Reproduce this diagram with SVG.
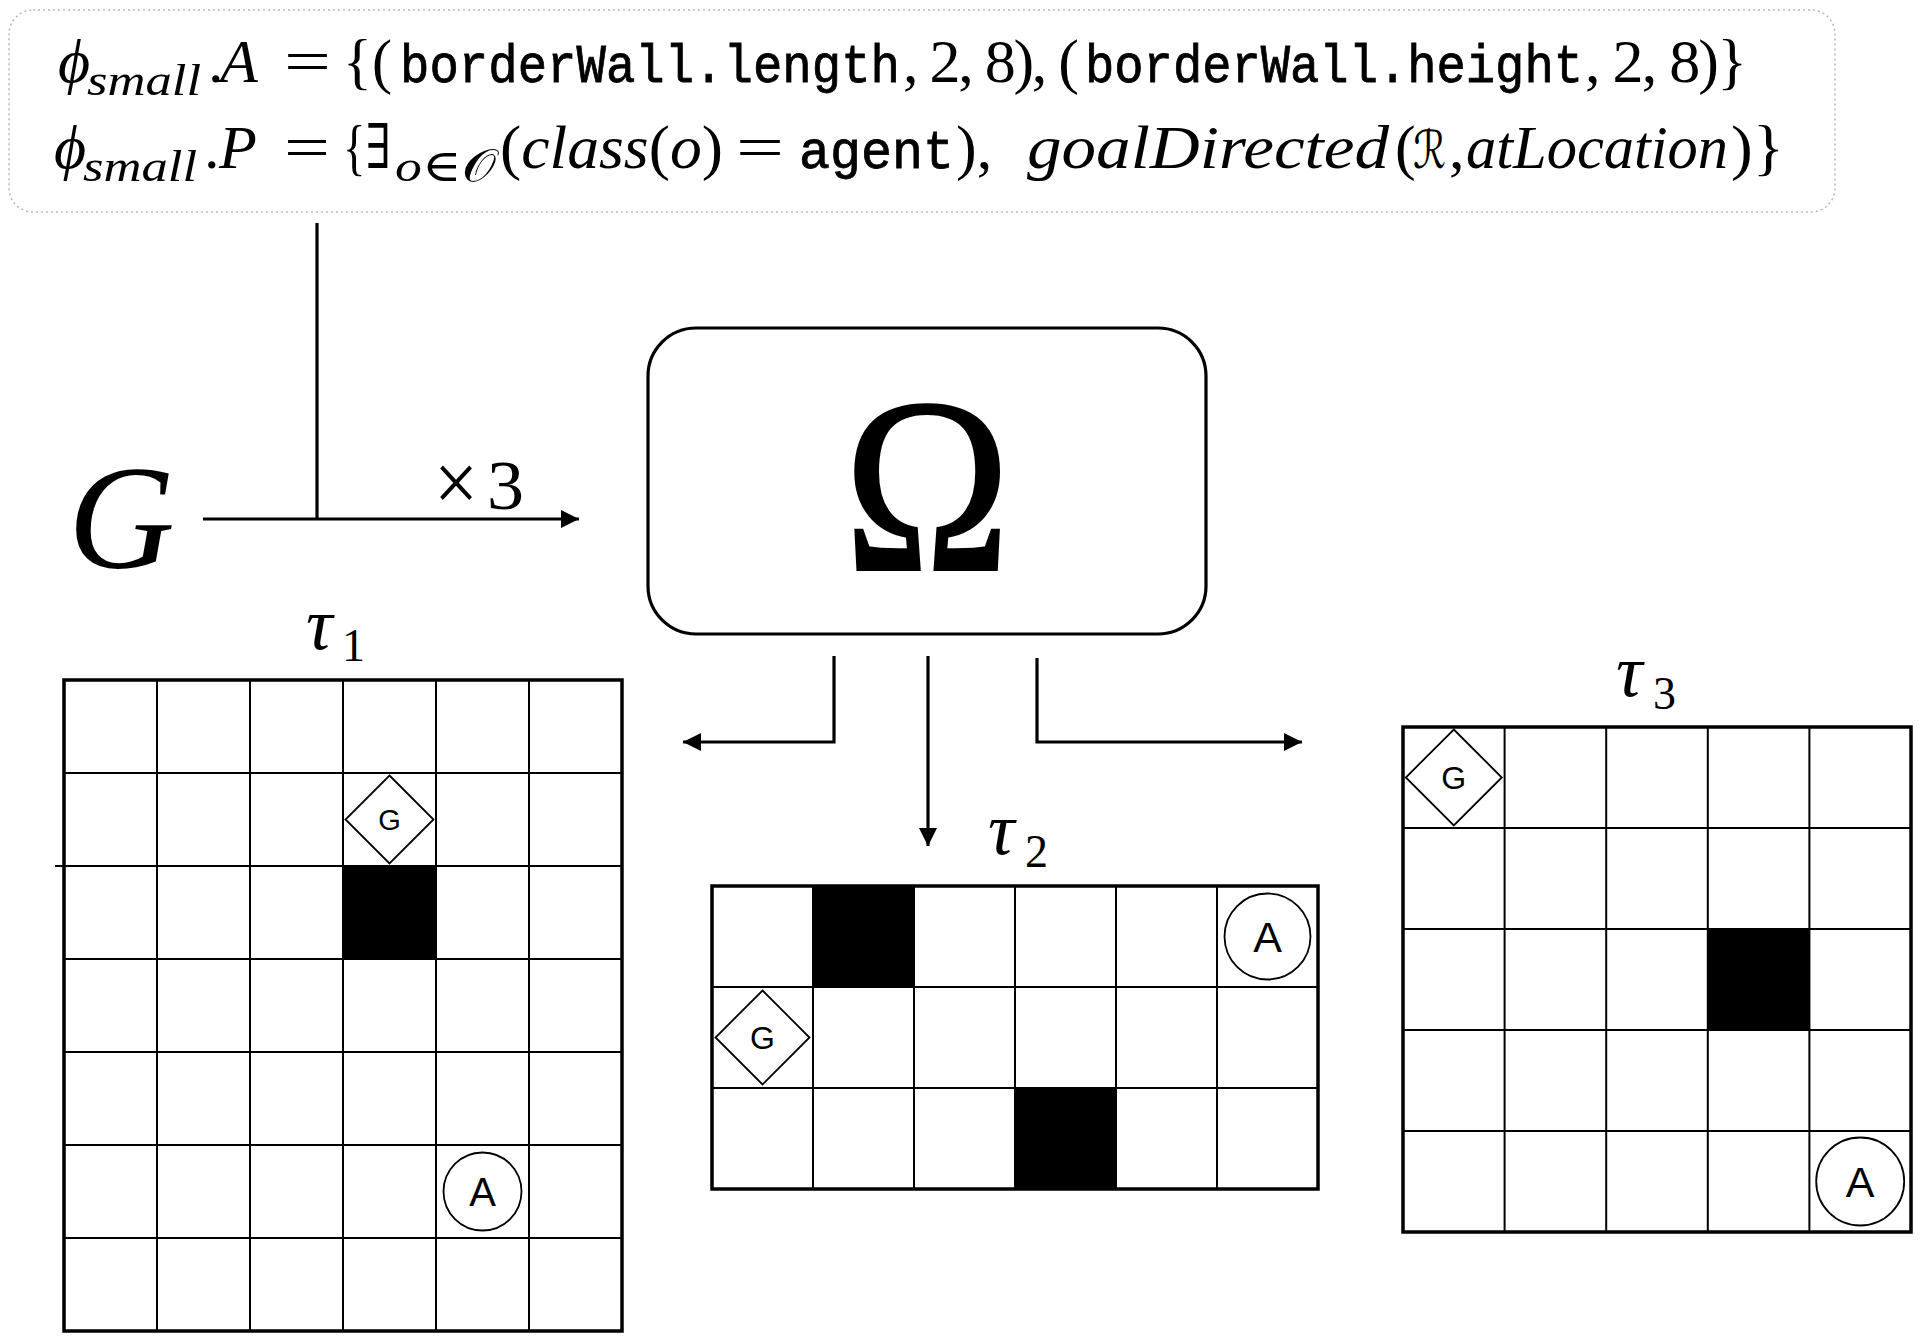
<svg xmlns="http://www.w3.org/2000/svg" width="1922" height="1338" viewBox="0 0 1922 1338">
<style>
.m{font-family:"Liberation Serif","DejaVu Serif",serif;font-size:62px;fill:#000}
.i{font-style:italic}
.s{font-size:45px}
.tt{font-family:"Liberation Mono","DejaVu Sans Mono",monospace;font-size:54px;fill:#000;stroke:#000;stroke-width:0.8}
.cal{font-family:"DejaVu Serif","DejaVu Sans","Noto Sans",serif;font-style:normal}
.grid{fill:none;stroke:#000;stroke-width:2}
.outer{fill:none;stroke:#000;stroke-width:3.5}
.wall{fill:#000}
.tok{fill:#fff;stroke:#000;stroke-width:1.8}
.lbl{font-family:"Liberation Sans",Arial,sans-serif;fill:#000;text-anchor:middle}
.conn{fill:none;stroke:#000;stroke-width:3.2}
</style>
<defs>
<marker id="ah" viewBox="0 0 10 10" refX="10" refY="5" markerUnits="userSpaceOnUse" markerWidth="22" markerHeight="18" orient="auto">
<path d="M0,0 L10,5 L0,10 z" fill="#000"/>
</marker>
</defs>
<rect width="1922" height="1338" fill="#fff"/>

<g id="spec">
<rect x="9" y="10" width="1826" height="202" rx="24" fill="#fff" stroke="#b8b8b8" stroke-width="1.5" stroke-dasharray="2 3"/>
<text class="m i" x="58" y="82">ϕ</text>
<text class="m i s" x="87" y="95" textLength="114" lengthAdjust="spacingAndGlyphs">small</text>
<text class="m" x="208" y="82">.</text>
<text class="m i" x="220" y="82">A</text>
<text class="m" x="284" y="82" textLength="47" lengthAdjust="spacingAndGlyphs">=</text>
<text class="m" x="343" y="82" textLength="49" lengthAdjust="spacingAndGlyphs">{(</text>
<text class="tt" x="400" y="82" textLength="500" lengthAdjust="spacingAndGlyphs">borderWall.length</text>
<text class="m" x="903" y="82" textLength="176" lengthAdjust="spacing">, 2, 8), (</text>
<text class="tt" x="1085" y="82" textLength="498" lengthAdjust="spacingAndGlyphs">borderWall.height</text>
<text class="m" x="1585" y="82" textLength="162" lengthAdjust="spacing">, 2, 8)}</text>

<text class="m i" x="54" y="168">ϕ</text>
<text class="m i s" x="83" y="181" textLength="114" lengthAdjust="spacingAndGlyphs">small</text>
<text class="m" x="204" y="168">.</text>
<text class="m i" x="219" y="168">P</text>
<text class="m" x="284" y="168" textLength="46" lengthAdjust="spacingAndGlyphs">=</text>
<text class="m" x="343" y="168" textLength="48" lengthAdjust="spacingAndGlyphs">{∃</text>
<text class="m s" x="395" y="181" textLength="100" lengthAdjust="spacingAndGlyphs"><tspan class="i">o</tspan>∈<tspan class="cal">𝒪</tspan></text>
<text class="m" x="500" y="168" textLength="223" lengthAdjust="spacingAndGlyphs">(<tspan class="i">class</tspan>(<tspan class="i">o</tspan>)</text>
<text class="m" x="736" y="168" textLength="48" lengthAdjust="spacingAndGlyphs">=</text>
<text class="tt" x="799" y="168" textLength="155" lengthAdjust="spacingAndGlyphs">agent</text>
<text class="m" x="956" y="168">),</text>
<text class="m i" x="1027" y="168" textLength="362" lengthAdjust="spacingAndGlyphs">goalDirected</text>
<text class="m" x="1395" y="168">(</text>
<text class="m cal" x="1413" y="168" textLength="33" lengthAdjust="spacingAndGlyphs" style="font-size:52px">ℛ</text>
<text class="m" x="1449" y="168">,</text>
<text class="m i" x="1466" y="168" textLength="262" lengthAdjust="spacingAndGlyphs">atLocation</text>
<text class="m" x="1731" y="168" textLength="53" lengthAdjust="spacingAndGlyphs">)}</text>
</g>

<g id="G">
<text class="m i" x="68" y="568" style="font-size:148px">G</text>
</g>

<g id="omega">
<rect x="648" y="328" width="558" height="306" rx="48" fill="#fff" stroke="#000" stroke-width="3.2"/>
<text class="m" transform="translate(927,570) scale(0.9,1)" text-anchor="middle" style="font-size:250px" stroke="#000" stroke-width="2">Ω</text>
</g>

<g id="connectors">
<path class="conn" d="M317,223 V519"/>
<path class="conn" d="M203,519 H579" marker-end="url(#ah)"/>
<path class="conn" d="M834,656 V742 H683" marker-end="url(#ah)"/>
<path class="conn" d="M928,656 V846" marker-end="url(#ah)"/>
<path class="conn" d="M1037,658 V742 H1302" marker-end="url(#ah)"/>
<text class="m" x="434" y="511" textLength="44" lengthAdjust="spacingAndGlyphs" style="font-size:84px">×</text>
<text class="m" x="487" y="509" textLength="37" lengthAdjust="spacingAndGlyphs" style="font-size:70px">3</text>
</g>

<g id="tau1">
<text class="m i" x="306" y="649" style="font-size:74px">τ</text>
<text class="m" x="342" y="661" style="font-size:46px">1</text>
<rect class="wall" x="343" y="866" width="93" height="93"/>
<path class="grid" d="M157,680V1331M250,680V1331M343,680V1331M436,680V1331M529,680V1331M64,773H622M64,866H622M64,959H622M64,1052H622M64,1145H622M64,1238H622M55,866H64"/>
<rect class="outer" x="64" y="680" width="558" height="651"/>
<path class="tok" d="M389.5,775.5 L433.5,819.5 L389.5,863.5 L345.5,819.5 Z"/>
<text class="lbl" x="389.5" y="830" style="font-size:29px">G</text>
<circle class="tok" cx="482.5" cy="1191.5" r="39"/>
<text class="lbl" x="482.5" y="1206" style="font-size:40px">A</text>
</g>

<g id="tau2">
<text class="m i" x="988" y="854" style="font-size:74px">τ</text>
<text class="m" x="1025" y="867" style="font-size:46px">2</text>
<rect class="wall" x="813" y="886" width="101" height="101"/>
<rect class="wall" x="1015" y="1088" width="101" height="101"/>
<path class="grid" d="M813,886V1189M914,886V1189M1015,886V1189M1116,886V1189M1217,886V1189M712,987H1318M712,1088H1318"/>
<rect class="outer" x="712" y="886" width="606" height="303"/>
<path class="tok" d="M762.5,990.5 L809.5,1037.5 L762.5,1084.5 L715.5,1037.5 Z"/>
<text class="lbl" x="762.5" y="1049" style="font-size:32px">G</text>
<circle class="tok" cx="1267.5" cy="936.5" r="43"/>
<text class="lbl" x="1267.5" y="952" style="font-size:43px">A</text>
</g>

<g id="tau3">
<text class="m i" x="1616" y="696" style="font-size:74px">τ</text>
<text class="m" x="1653" y="709" style="font-size:46px">3</text>
<rect class="wall" x="1707.8" y="929" width="101.6" height="101"/>
<path class="grid" d="M1504.6,727V1232M1606.2,727V1232M1707.8,727V1232M1809.4,727V1232M1403,828H1911M1403,929H1911M1403,1030H1911M1403,1131H1911"/>
<rect class="outer" x="1403" y="727" width="508" height="505"/>
<path class="tok" d="M1453.8,729.5 L1501.8,777.5 L1453.8,825.5 L1405.8,777.5 Z"/>
<text class="lbl" x="1453.8" y="789" style="font-size:32px">G</text>
<circle class="tok" cx="1860.2" cy="1181.5" r="44"/>
<text class="lbl" x="1860.2" y="1197" style="font-size:43px">A</text>
</g>
</svg>
